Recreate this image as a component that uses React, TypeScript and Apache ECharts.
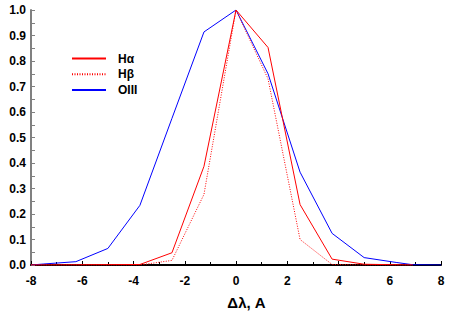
import React, { useEffect, useRef } from "react";
import * as echarts from "echarts";

const seriesNames = ["Hα", "Hβ", "OIII"];

const haData: [number, number][] = [
  [-8, 0], [-3.75, 0.002], [-2.5, 0.048], [-1.25, 0.387], [0, 1], [1.25, 0.853],
  [2.5, 0.237], [3.75, 0.023], [5, 0.003], [6.9, 0],
];
const hbData: [number, number][] = [
  [-8, 0], [-3.75, 0], [-2.5, 0.018], [-1.25, 0.277], [0, 1], [1.25, 0.73],
  [2.5, 0.1], [3.75, 0.002], [5, 0], [6.9, 0],
];
const oiiiData: [number, number][] = [
  [-8, 0], [-7.5, 0.004], [-6.25, 0.013], [-5, 0.065], [-3.75, 0.234], [-2.5, 0.575],
  [-1.25, 0.914], [0, 1], [1.25, 0.75], [2.5, 0.364], [3.75, 0.124], [5, 0.029],
  [6.25, 0.01], [6.9, 0.001], [8, 0],
];

const xAxisName = "Δλ, A";

export default function App() {
  const ref = useRef<HTMLDivElement>(null);
  useEffect(() => {
    if (!ref.current) return;
    const chart = echarts.init(ref.current, undefined, { renderer: "svg" });
    const font = "'Liberation Sans', Arial, sans-serif";
    chart.setOption({
      animation: false,
      backgroundColor: "#ffffff",
      grid: { left: 31, right: 20, top: 10, bottom: 52 },
      legend: {
        orient: "vertical",
        left: 66,
        top: 47.5,
        itemWidth: 34,
        itemHeight: 10,
        itemGap: 3.8,
        data: seriesNames,
        itemStyle: { opacity: 0 },
        textStyle: {
          fontFamily: font, fontWeight: "bold", fontSize: 12, color: "#000",
          padding: [0, 0, 0, 7],
        },
      },
      xAxis: {
        type: "value",
        min: -8,
        max: 8,
        interval: 2,
        name: xAxisName,
        nameLocation: "middle",
        nameGap: 30,
        nameTextStyle: {
          fontFamily: font, fontWeight: "bold", fontSize: 15, color: "#000",
          padding: [0, 0, 0, 21],
        },
        axisLine: { onZero: false, lineStyle: { color: "#000", width: 2 } },
        axisTick: { inside: true, length: 4, lineStyle: { color: "#000" } },
        minorTick: { show: true, splitNumber: 2, length: 3, lineStyle: { color: "#000" } },
        axisLabel: { fontFamily: font, fontWeight: "bold", fontSize: 12, color: "#000", margin: 10 },
        splitLine: { show: false },
      },
      yAxis: {
        type: "value",
        min: 0,
        max: 1,
        interval: 0.1,
        axisLine: { show: true, onZero: false, lineStyle: { color: "#808080", width: 2 } },
        axisTick: { show: true, inside: true, length: 4, lineStyle: { color: "#808080" } },
        minorTick: { show: true, splitNumber: 2, length: 4, lineStyle: { color: "#808080" } },
        axisLabel: {
          fontFamily: font, fontWeight: "bold", fontSize: 12, color: "#000", margin: 5,
          formatter: (v: number) => v.toFixed(1),
        },
        splitLine: { show: false },
      },
      series: [
        {
          name: seriesNames[0], type: "line", data: haData, symbol: "none",
          lineStyle: { color: "#ff0000", width: 1 }, itemStyle: { color: "#ff0000" }, z: 3,
        },
        {
          name: seriesNames[1], type: "line", data: hbData, symbol: "none",
          lineStyle: { color: "#ff0000", width: 1, type: [1, 1.5] }, itemStyle: { color: "#ff0000" }, z: 2,
        },
        {
          name: seriesNames[2], type: "line", data: oiiiData, symbol: "none",
          lineStyle: { color: "#0000ff", width: 1 }, itemStyle: { color: "#0000ff" }, z: 1,
        },
      ],
    });
    return () => chart.dispose();
  }, []);
  return <div ref={ref} style={{ width: 461, height: 317, position: "absolute", left: 0, top: 0 }} />;
}
